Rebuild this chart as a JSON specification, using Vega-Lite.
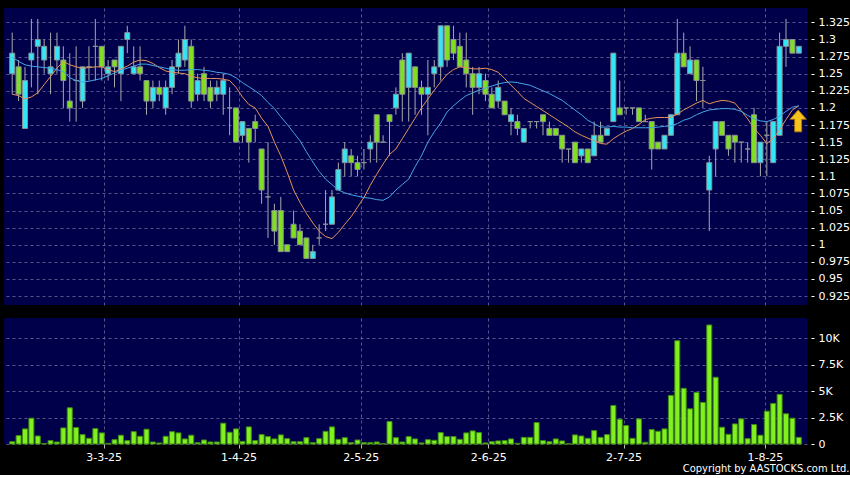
{
  "$schema": "https://vega.github.io/schema/vega-lite/v6.json",
  "background": "#000000",
  "padding": {"left": 4, "top": 8, "right": 2, "bottom": 1},
  "title": {"text": "Copyright by AASTOCKS.com Ltd.", "orient": "bottom", "anchor": "end", "color": "#ffffff", "fontSize": 11, "font": "DejaVu Sans Condensed, DejaVu Sans", "fontWeight": "normal", "offset": 1},
  "data": {"values": [
    {"i":0,"o":1.25,"h":1.31,"l":1.22,"c":1.28,"v":220,"m1":1.220,"m2":1.274},
    {"i":1,"o":1.26,"h":1.27,"l":1.21,"c":1.22,"v":800,"m1":1.218,"m2":1.268},
    {"i":2,"o":1.17,"h":1.26,"l":1.17,"c":1.24,"v":1430,"m1":1.213,"m2":1.263},
    {"i":3,"o":1.27,"h":1.33,"l":1.23,"c":1.28,"v":2440,"m1":1.216,"m2":1.261},
    {"i":4,"o":1.29,"h":1.33,"l":1.22,"c":1.30,"v":760,"m1":1.222,"m2":1.260},
    {"i":5,"o":1.27,"h":1.30,"l":1.25,"c":1.29,"v":50,"m1":1.234,"m2":1.259},
    {"i":6,"o":1.25,"h":1.31,"l":1.22,"c":1.26,"v":320,"m1":1.246,"m2":1.258},
    {"i":7,"o":1.27,"h":1.31,"l":1.25,"c":1.29,"v":190,"m1":1.258,"m2":1.256},
    {"i":8,"o":1.27,"h":1.29,"l":1.20,"c":1.24,"v":1520,"m1":1.268,"m2":1.253},
    {"i":9,"o":1.21,"h":1.28,"l":1.18,"c":1.20,"v":3430,"m1":1.263,"m2":1.244},
    {"i":10,"o":1.24,"h":1.29,"l":1.18,"c":1.24,"v":1560,"m1":1.260,"m2":1.240},
    {"i":11,"o":1.21,"h":1.26,"l":1.20,"c":1.26,"v":890,"m1":1.258,"m2":1.238},
    {"i":12,"o":1.26,"h":1.29,"l":1.24,"c":1.26,"v":540,"m1":1.259,"m2":1.239},
    {"i":13,"o":1.29,"h":1.33,"l":1.24,"c":1.29,"v":1460,"m1":1.260,"m2":1.241},
    {"i":14,"o":1.29,"h":1.29,"l":1.24,"c":1.26,"v":1050,"m1":1.260,"m2":1.243},
    {"i":15,"o":1.25,"h":1.27,"l":1.24,"c":1.26,"v":60,"m1":1.256,"m2":1.247},
    {"i":16,"o":1.27,"h":1.27,"l":1.23,"c":1.26,"v":410,"m1":1.253,"m2":1.251},
    {"i":17,"o":1.25,"h":1.29,"l":1.21,"c":1.29,"v":830,"m1":1.257,"m2":1.255},
    {"i":18,"o":1.30,"h":1.32,"l":1.28,"c":1.31,"v":320,"m1":1.261,"m2":1.258},
    {"i":19,"o":1.25,"h":1.29,"l":1.25,"c":1.26,"v":1170,"m1":1.267,"m2":1.261},
    {"i":20,"o":1.26,"h":1.29,"l":1.24,"c":1.25,"v":730,"m1":1.270,"m2":1.264},
    {"i":21,"o":1.24,"h":1.24,"l":1.19,"c":1.21,"v":1400,"m1":1.269,"m2":1.264},
    {"i":22,"o":1.21,"h":1.24,"l":1.20,"c":1.23,"v":190,"m1":1.265,"m2":1.262},
    {"i":23,"o":1.23,"h":1.24,"l":1.21,"c":1.22,"v":100,"m1":1.259,"m2":1.260},
    {"i":24,"o":1.20,"h":1.24,"l":1.19,"c":1.23,"v":730,"m1":1.254,"m2":1.258},
    {"i":25,"o":1.23,"h":1.27,"l":1.22,"c":1.26,"v":1170,"m1":1.252,"m2":1.256},
    {"i":26,"o":1.26,"h":1.30,"l":1.25,"c":1.28,"v":1050,"m1":1.251,"m2":1.255},
    {"i":27,"o":1.27,"h":1.32,"l":1.26,"c":1.30,"v":480,"m1":1.250,"m2":1.255},
    {"i":28,"o":1.29,"h":1.30,"l":1.20,"c":1.21,"v":830,"m1":1.246,"m2":1.256},
    {"i":29,"o":1.22,"h":1.25,"l":1.21,"c":1.24,"v":130,"m1":1.244,"m2":1.256},
    {"i":30,"o":1.25,"h":1.26,"l":1.21,"c":1.22,"v":380,"m1":1.243,"m2":1.255},
    {"i":31,"o":1.23,"h":1.24,"l":1.20,"c":1.21,"v":190,"m1":1.243,"m2":1.254},
    {"i":32,"o":1.22,"h":1.24,"l":1.21,"c":1.23,"v":190,"m1":1.243,"m2":1.252},
    {"i":33,"o":1.22,"h":1.25,"l":1.19,"c":1.24,"v":1970,"m1":1.242,"m2":1.251},
    {"i":34,"o":1.20,"h":1.23,"l":1.16,"c":1.20,"v":1110,"m1":1.240,"m2":1.249},
    {"i":35,"o":1.20,"h":1.20,"l":1.15,"c":1.15,"v":1430,"m1":1.230,"m2":1.244},
    {"i":36,"o":1.16,"h":1.18,"l":1.15,"c":1.18,"v":250,"m1":1.216,"m2":1.237},
    {"i":37,"o":1.17,"h":1.17,"l":1.12,"c":1.15,"v":1620,"m1":1.205,"m2":1.231},
    {"i":38,"o":1.18,"h":1.19,"l":1.15,"c":1.17,"v":320,"m1":1.200,"m2":1.225},
    {"i":39,"o":1.14,"h":1.14,"l":1.06,"c":1.08,"v":890,"m1":1.185,"m2":1.218},
    {"i":40,"o":1.07,"h":1.15,"l":1.01,"c":1.07,"v":700,"m1":1.173,"m2":1.208},
    {"i":41,"o":1.05,"h":1.06,"l":1.00,"c":1.02,"v":480,"m1":1.150,"m2":1.199},
    {"i":42,"o":1.05,"h":1.07,"l":0.99,"c":0.99,"v":860,"m1":1.130,"m2":1.187},
    {"i":43,"o":1.00,"h":1.00,"l":0.99,"c":0.99,"v":510,"m1":1.106,"m2":1.176},
    {"i":44,"o":1.03,"h":1.05,"l":1.01,"c":1.01,"v":220,"m1":1.080,"m2":1.164},
    {"i":45,"o":1.02,"h":1.03,"l":1.00,"c":1.00,"v":220,"m1":1.062,"m2":1.152},
    {"i":46,"o":1.01,"h":1.01,"l":0.98,"c":0.98,"v":600,"m1":1.046,"m2":1.136},
    {"i":47,"o":0.98,"h":1.00,"l":0.98,"c":0.99,"v":130,"m1":1.032,"m2":1.121},
    {"i":48,"o":1.01,"h":1.03,"l":1.00,"c":1.01,"v":510,"m1":1.020,"m2":1.107},
    {"i":49,"o":1.03,"h":1.08,"l":1.02,"c":1.03,"v":1200,"m1":1.012,"m2":1.096},
    {"i":50,"o":1.03,"h":1.08,"l":1.03,"c":1.07,"v":1620,"m1":1.009,"m2":1.088},
    {"i":51,"o":1.08,"h":1.12,"l":1.08,"c":1.11,"v":440,"m1":1.018,"m2":1.080},
    {"i":52,"o":1.12,"h":1.15,"l":1.10,"c":1.14,"v":600,"m1":1.030,"m2":1.076},
    {"i":53,"o":1.13,"h":1.14,"l":1.10,"c":1.12,"v":130,"m1":1.041,"m2":1.073},
    {"i":54,"o":1.12,"h":1.13,"l":1.10,"c":1.11,"v":380,"m1":1.055,"m2":1.071},
    {"i":55,"o":1.12,"h":1.14,"l":1.11,"c":1.12,"v":130,"m1":1.069,"m2":1.069},
    {"i":56,"o":1.14,"h":1.16,"l":1.12,"c":1.15,"v":130,"m1":1.087,"m2":1.068},
    {"i":57,"o":1.19,"h":1.19,"l":1.12,"c":1.15,"v":190,"m1":1.103,"m2":1.066},
    {"i":58,"o":1.15,"h":1.16,"l":1.15,"c":1.15,"v":30,"m1":1.118,"m2":1.065},
    {"i":59,"o":1.19,"h":1.19,"l":1.13,"c":1.18,"v":2130,"m1":1.132,"m2":1.070},
    {"i":60,"o":1.20,"h":1.23,"l":1.19,"c":1.22,"v":600,"m1":1.140,"m2":1.080},
    {"i":61,"o":1.27,"h":1.28,"l":1.18,"c":1.22,"v":190,"m1":1.155,"m2":1.088},
    {"i":62,"o":1.23,"h":1.28,"l":1.18,"c":1.28,"v":700,"m1":1.170,"m2":1.096},
    {"i":63,"o":1.26,"h":1.26,"l":1.19,"c":1.23,"v":480,"m1":1.185,"m2":1.114},
    {"i":64,"o":1.23,"h":1.24,"l":1.19,"c":1.22,"v":100,"m1":1.200,"m2":1.130},
    {"i":65,"o":1.22,"h":1.27,"l":1.16,"c":1.23,"v":410,"m1":1.213,"m2":1.150},
    {"i":66,"o":1.25,"h":1.27,"l":1.23,"c":1.26,"v":350,"m1":1.226,"m2":1.165},
    {"i":67,"o":1.26,"h":1.32,"l":1.24,"c":1.32,"v":1080,"m1":1.238,"m2":1.178},
    {"i":68,"o":1.32,"h":1.32,"l":1.26,"c":1.27,"v":700,"m1":1.249,"m2":1.194},
    {"i":69,"o":1.30,"h":1.32,"l":1.27,"c":1.28,"v":700,"m1":1.256,"m2":1.203},
    {"i":70,"o":1.29,"h":1.31,"l":1.26,"c":1.26,"v":440,"m1":1.260,"m2":1.211},
    {"i":71,"o":1.27,"h":1.31,"l":1.23,"c":1.25,"v":1050,"m1":1.259,"m2":1.218},
    {"i":72,"o":1.25,"h":1.26,"l":1.19,"c":1.23,"v":1240,"m1":1.257,"m2":1.222},
    {"i":73,"o":1.23,"h":1.26,"l":1.22,"c":1.25,"v":1080,"m1":1.257,"m2":1.226},
    {"i":74,"o":1.24,"h":1.25,"l":1.21,"c":1.22,"v":100,"m1":1.258,"m2":1.229},
    {"i":75,"o":1.22,"h":1.23,"l":1.20,"c":1.20,"v":220,"m1":1.256,"m2":1.232},
    {"i":76,"o":1.21,"h":1.24,"l":1.20,"c":1.23,"v":290,"m1":1.252,"m2":1.235},
    {"i":77,"o":1.21,"h":1.21,"l":1.19,"c":1.19,"v":320,"m1":1.243,"m2":1.237},
    {"i":78,"o":1.18,"h":1.20,"l":1.16,"c":1.19,"v":480,"m1":1.233,"m2":1.238},
    {"i":79,"o":1.18,"h":1.19,"l":1.16,"c":1.17,"v":60,"m1":1.224,"m2":1.237},
    {"i":80,"o":1.15,"h":1.17,"l":1.15,"c":1.17,"v":630,"m1":1.214,"m2":1.235},
    {"i":81,"o":1.18,"h":1.18,"l":1.17,"c":1.18,"v":630,"m1":1.208,"m2":1.233},
    {"i":82,"o":1.18,"h":1.18,"l":1.17,"c":1.18,"v":2030,"m1":1.202,"m2":1.229},
    {"i":83,"o":1.19,"h":1.19,"l":1.16,"c":1.18,"v":320,"m1":1.196,"m2":1.225},
    {"i":84,"o":1.17,"h":1.18,"l":1.16,"c":1.16,"v":220,"m1":1.190,"m2":1.221},
    {"i":85,"o":1.17,"h":1.17,"l":1.16,"c":1.16,"v":480,"m1":1.184,"m2":1.216},
    {"i":86,"o":1.16,"h":1.16,"l":1.12,"c":1.14,"v":290,"m1":1.178,"m2":1.211},
    {"i":87,"o":1.14,"h":1.14,"l":1.12,"c":1.14,"v":30,"m1":1.172,"m2":1.204},
    {"i":88,"o":1.15,"h":1.15,"l":1.12,"c":1.12,"v":860,"m1":1.165,"m2":1.197},
    {"i":89,"o":1.13,"h":1.14,"l":1.12,"c":1.14,"v":760,"m1":1.160,"m2":1.190},
    {"i":90,"o":1.14,"h":1.14,"l":1.12,"c":1.12,"v":540,"m1":1.156,"m2":1.182},
    {"i":91,"o":1.13,"h":1.18,"l":1.13,"c":1.16,"v":1270,"m1":1.152,"m2":1.177},
    {"i":92,"o":1.16,"h":1.18,"l":1.15,"c":1.15,"v":630,"m1":1.148,"m2":1.172},
    {"i":93,"o":1.16,"h":1.17,"l":1.16,"c":1.17,"v":890,"m1":1.147,"m2":1.172},
    {"i":94,"o":1.18,"h":1.28,"l":1.18,"c":1.28,"v":3650,"m1":1.155,"m2":1.173},
    {"i":95,"o":1.20,"h":1.24,"l":1.19,"c":1.19,"v":2350,"m1":1.161,"m2":1.172},
    {"i":96,"o":1.20,"h":1.20,"l":1.19,"c":1.20,"v":1750,"m1":1.166,"m2":1.172},
    {"i":97,"o":1.20,"h":1.20,"l":1.19,"c":1.20,"v":540,"m1":1.170,"m2":1.171},
    {"i":98,"o":1.20,"h":1.20,"l":1.18,"c":1.18,"v":2380,"m1":1.176,"m2":1.171},
    {"i":99,"o":1.18,"h":1.19,"l":1.18,"c":1.18,"v":160,"m1":1.183,"m2":1.171},
    {"i":100,"o":1.18,"h":1.18,"l":1.11,"c":1.14,"v":1370,"m1":1.185,"m2":1.171},
    {"i":101,"o":1.15,"h":1.15,"l":1.14,"c":1.14,"v":1200,"m1":1.186,"m2":1.172},
    {"i":102,"o":1.14,"h":1.16,"l":1.14,"c":1.16,"v":1430,"m1":1.186,"m2":1.173},
    {"i":103,"o":1.16,"h":1.19,"l":1.16,"c":1.19,"v":4600,"m1":1.186,"m2":1.174},
    {"i":104,"o":1.19,"h":1.33,"l":1.19,"c":1.28,"v":9780,"m1":1.191,"m2":1.177},
    {"i":105,"o":1.28,"h":1.31,"l":1.26,"c":1.26,"v":5270,"m1":1.197,"m2":1.182},
    {"i":106,"o":1.25,"h":1.29,"l":1.25,"c":1.27,"v":3330,"m1":1.202,"m2":1.185},
    {"i":107,"o":1.27,"h":1.27,"l":1.21,"c":1.24,"v":4890,"m1":1.207,"m2":1.190},
    {"i":108,"o":1.24,"h":1.26,"l":1.20,"c":1.24,"v":3940,"m1":1.211,"m2":1.194},
    {"i":109,"o":1.08,"h":1.13,"l":1.02,"c":1.12,"v":11270,"m1":1.206,"m2":1.197},
    {"i":110,"o":1.14,"h":1.18,"l":1.10,"c":1.18,"v":6320,"m1":1.209,"m2":1.198},
    {"i":111,"o":1.18,"h":1.18,"l":1.16,"c":1.16,"v":1590,"m1":1.211,"m2":1.199},
    {"i":112,"o":1.16,"h":1.16,"l":1.13,"c":1.14,"v":920,"m1":1.210,"m2":1.199},
    {"i":113,"o":1.16,"h":1.16,"l":1.12,"c":1.15,"v":1900,"m1":1.207,"m2":1.198},
    {"i":114,"o":1.15,"h":1.15,"l":1.12,"c":1.15,"v":2380,"m1":1.196,"m2":1.195},
    {"i":115,"o":1.14,"h":1.15,"l":1.12,"c":1.14,"v":510,"m1":1.184,"m2":1.189},
    {"i":116,"o":1.19,"h":1.20,"l":1.12,"c":1.12,"v":1840,"m1":1.170,"m2":1.184},
    {"i":117,"o":1.12,"h":1.15,"l":1.10,"c":1.15,"v":830,"m1":1.160,"m2":1.181},
    {"i":118,"o":1.16,"h":1.18,"l":1.10,"c":1.16,"v":3110,"m1":1.148,"m2":1.180},
    {"i":119,"o":1.12,"h":1.18,"l":1.12,"c":1.18,"v":3840,"m1":1.155,"m2":1.183},
    {"i":120,"o":1.16,"h":1.31,"l":1.16,"c":1.29,"v":4700,"m1":1.168,"m2":1.188},
    {"i":121,"o":1.29,"h":1.33,"l":1.26,"c":1.30,"v":2860,"m1":1.183,"m2":1.195},
    {"i":122,"o":1.30,"h":1.30,"l":1.28,"c":1.28,"v":2440,"m1":1.197,"m2":1.201},
    {"i":123,"o":1.28,"h":1.29,"l":1.28,"c":1.29,"v":630,"m1":1.203,"m2":1.203}
  ]},
  "spacing": 13,
  "vconcat": [
    {
      "width": 803,
      "height": 297,
      "encoding": {
        "x": {"field": "i", "type": "quantitative",
          "scale": {"domain": [-0.5, 123.5], "nice": false, "zero": false},
          "axis": {"values": [14.3, 35.4, 54.5, 74.45, 95.6, 117.7], "tickCount": 50, "labels": false, "ticks": false, "domain": false, "grid": true, "title": null}}
      },
      "layer": [
        {
          "mark": {"type": "rule", "color": "#a8a8a8", "strokeWidth": 1},
          "encoding": {
            "y": {"field": "l", "type": "quantitative",
              "scale": {"domain": [0.912, 1.346], "nice": false, "zero": false},
              "axis": {"orient": "right", "values": [0.925, 0.95, 0.975, 1, 1.025, 1.05, 1.075, 1.1, 1.125, 1.15, 1.175, 1.2, 1.225, 1.25, 1.275, 1.3, 1.325], "tickCount": 50, "labelExpr": "'' + datum.value", "labelOverlap": false, "labelBound": false, "grid": true, "domain": false, "tickSize": 3, "offset": 4, "labelPadding": 4, "title": null}},
            "y2": {"field": "h"}
          }
        },
        {
          "mark": {"type": "bar", "width": 5, "stroke": "#8a8f96", "strokeWidth": 1},
          "encoding": {
            "y": {"field": "o", "type": "quantitative"},
            "y2": {"field": "c"},
            "fill": {"condition": [{"test": "datum.c > datum.o", "value": "#33e6f5"}, {"test": "datum.c < datum.o", "value": "#80e020"}], "value": "#9a9a9a"}
          }
        },
        {
          "mark": {"type": "line", "color": "#e8935a", "strokeWidth": 1},
          "encoding": {"y": {"field": "m1", "type": "quantitative"}}
        },
        {
          "mark": {"type": "line", "color": "#45a6e6", "strokeWidth": 1},
          "encoding": {"y": {"field": "m2", "type": "quantitative"}}
        },
        {
          "data": {"values": [{"i": 122.9, "p": 1.181}]},
          "mark": {"type": "point", "shape": "M0,-1L0.75,-0.15L0.32,-0.15L0.32,1L-0.32,1L-0.32,-0.15L-0.75,-0.15Z", "size": 480, "filled": true, "fill": "#f6c21c", "stroke": "#b07a00", "strokeWidth": 0.8, "opacity": 1},
          "encoding": {"y": {"field": "p", "type": "quantitative"}}
        }
      ]
    },
    {
      "width": 803,
      "height": 126,
      "mark": {"type": "bar", "width": 5, "fill": "#80f020", "stroke": "#3f8a12", "strokeWidth": 1},
      "encoding": {
        "x": {"field": "i", "type": "quantitative",
          "scale": {"domain": [-0.5, 123.5], "nice": false, "zero": false},
          "axis": {"values": [14.3, 35.4, 54.5, 74.45, 95.6, 117.7], "tickCount": 50, "labelExpr": "datum.value < 20 ? '3-3-25' : datum.value < 40 ? '1-4-25' : datum.value < 60 ? '2-5-25' : datum.value < 80 ? '2-6-25' : datum.value < 100 ? '2-7-25' : '1-8-25'", "labelOverlap": false, "grid": true, "domain": false, "ticks": true, "tickSize": 4, "tickColor": "#bbbbbb", "labelPadding": 3, "title": null}},
        "y": {"field": "v", "type": "quantitative",
          "scale": {"domain": [0, 11930], "nice": false, "zero": true},
          "axis": {"orient": "right", "values": [0, 2500, 5000, 7500, 10000], "tickCount": 50, "labelExpr": "datum.value == 0 ? '0' : format(datum.value / 1000, '~g') + 'K'", "labelOverlap": false, "grid": true, "domain": false, "tickSize": 3, "offset": 4, "labelPadding": 4, "title": null}}
      }
    }
  ],
  "config": {
    "view": {"fill": "#00004a", "stroke": null},
    "axis": {"labelColor": "#ffffff", "labelFont": "DejaVu Sans", "labelFontSize": 11, "gridColor": "#7070a0", "gridDash": [3, 3], "gridOpacity": 0.75, "tickColor": "#ffffff", "domain": false}
  }
}
